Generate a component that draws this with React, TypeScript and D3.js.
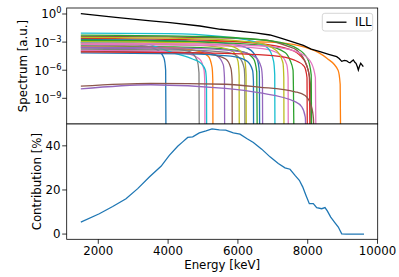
import React from 'react';
import * as d3 from 'd3';

// spectra of the individual branches: [energy keV, log10 spectrum]
const spectra: [number, number][][] = [
  [[1500, -3.05], [2500, -3.15], [3300, -3.4], [3700, -3.85], [3880, -4.7], [3930, -6.0], [3940, -14]],
  [[1500, -2.9], [4000, -2.9], [6000, -2.95], [6920, -3.0], [7776, -3.4], [8300, -4.1], [8540, -4.7], [8870, -6.0], [8930, -7.5], [8945, -14]],
  [[1500, -3.4], [4000, -3.5], [5500, -3.7], [6200, -4.1], [6450, -4.8], [6540, -6.2], [6556, -14]],
  [[1500, -2.6], [4500, -2.75], [6500, -3.1], [7500, -3.8], [7800, -4.5], [7950, -5.3], [8045, -6.6], [8066, -14]],
  [[1500, -3.65], [4000, -3.75], [5000, -4.0], [5400, -4.45], [5580, -5.4], [5615, -6.8], [5622, -14]],
  [[1500, -3.95], [4000, -4.05], [5200, -4.3], [5650, -4.8], [5800, -5.8], [5833, -7], [5839, -14]],
  [[1500, -3.85], [3500, -3.95], [4500, -4.2], [4900, -4.8], [5030, -6], [5052, -7.5], [5057, -14]],
  [[1500, -3.3], [3000, -3.4], [3800, -3.55], [4600, -4.0], [4830, -4.9], [4885, -6.3], [4894, -14]],
  [[1500, -3.15], [4000, -3.25], [5400, -3.5], [5850, -4.0], [6000, -5.0], [6035, -6.5], [6040, -14]],
  [[1500, -3.0], [3000, -3.05], [3400, -3.2], [3800, -3.7], [4200, -4.2], [4700, -4.8], [4950, -5.3], [5070, -6.0], [5100, -7.2], [5106, -14]],
  [[1500, -2.7], [4500, -2.9], [5800, -3.2], [6300, -3.7], [6550, -4.8], [6615, -6.2], [6625, -14]],
  [[1500, -3.5], [4000, -3.6], [4800, -3.9], [5150, -4.5], [5260, -5.7], [5280, -7], [5286, -14]],
  [[1500, -2.8], [5000, -3.0], [6800, -3.4], [7350, -4.1], [7490, -4.9], [7580, -6.0], [7607, -14]],
  [[1500, -3.55], [4500, -3.65], [6000, -4.0], [6500, -4.6], [6670, -5.7], [6703, -7], [6710, -14]],
  [[1500, -2.4], [4000, -2.45], [5500, -2.55], [6830, -2.8], [7400, -3.4], [7700, -3.9], [7970, -5.5], [8080, -7.5], [8100, -14]],
  [[1500, -3.25], [5000, -3.35], [6700, -3.7], [7200, -4.3], [7400, -5.4], [7438, -6.8], [7444, -14]],
  [[1500, -3.75], [4500, -3.85], [5700, -4.1], [6050, -4.7], [6180, -5.8], [6198, -7], [6203, -14]],
  [[1500, -2.95], [4500, -3.05], [5700, -3.35], [6050, -3.9], [6200, -5.0], [6234, -6.5], [6240, -14]],
  [[1500, -2.05], [4000, -2.1], [5500, -2.4], [6400, -2.9], [6850, -3.6], [7020, -5.0], [7055, -6.5], [7063, -14]],
  [[1500, -4.15], [4500, -4.25], [5800, -4.5], [6250, -5.0], [6420, -6.0], [6445, -7.2], [6450, -14]],
  [[1500, -2.25], [5000, -2.4], [7000, -2.9], [7700, -3.7], [8000, -4.8], [8100, -6.5], [8114, -14]],
  [[1500, -4.05], [5000, -4.15], [7000, -4.45], [7600, -4.9], [7900, -5.6], [7980, -6.8], [7990, -14]],
  [[1500, -3.1], [5000, -3.2], [7000, -3.5], [7800, -4.2], [8100, -5.2], [8220, -6.8], [8237, -14]],
  [[1500, -2.5], [5000, -2.65], [6600, -3.1], [7100, -3.9], [7290, -5.2], [7315, -6.8], [7321, -14]],
  [[1500, -8.0], [3500, -7.55], [5640, -7.93], [6600, -8.4], [7636, -9.36], [7827, -9.9], [7930, -11], [7951, -14]],
  [[1500, -7.7], [3500, -7.4], [5640, -7.5], [6600, -7.8], [7636, -8.3], [7925, -8.7], [8100, -9.8], [8165, -11.2], [8180, -14]],
];

const tab = d3.schemeCategory10;
const spectraColors = [
  tab[0], tab[1], tab[2], tab[3], tab[4], tab[5], tab[6], tab[7], tab[8], tab[9],
  tab[0], tab[1], tab[2], tab[4], tab[5], tab[6], tab[7], tab[8], tab[9], tab[0],
  tab[2], tab[3], tab[6], tab[8], tab[4], tab[5],
];

const illEnergy = [1500, 2500, 3500, 4055, 4914, 5500, 6500, 6920, 7206, 7500, 7874, 8100, 8352, 8600, 8830, 8900, 8974, 9050, 9117, 9170, 9212, 9260, 9307, 9350, 9384, 9420, 9450, 9485, 9518, 9560, 9593];
const illLog = [0.03, -0.35, -0.74, -0.92, -1.28, -1.63, -2.02, -2.24, -2.55, -2.9, -3.35, -3.75, -4.02, -4.3, -4.55, -4.75, -5.05, -4.95, -5.0, -5.15, -5.2, -5.05, -4.9, -5.15, -5.26, -5.6, -5.98, -5.55, -5.26, -5.45, -5.62];

const contribEnergy = [1500, 2029, 2413, 2794, 3129, 3462, 3797, 4035, 4275, 4418, 4562, 4705, 4894, 5086, 5258, 5467, 5650, 5868, 6060, 6252, 6443, 6682, 6920, 7157, 7349, 7493, 7636, 7760, 7856, 7951, 8046, 8160, 8257, 8400, 8495, 8561, 8659, 8782, 8876, 8974, 9100, 9613];
const contribPct = [5.4, 9.2, 12.5, 16, 20.6, 25.9, 30.7, 35.7, 39.8, 41.8, 43.8, 44.1, 45.9, 46.8, 47.7, 47.2, 47.1, 45.9, 45.3, 43.3, 41.5, 38.5, 35, 32, 30, 29.4, 26.6, 24.4, 21.4, 17.5, 13.8, 13.8, 12, 11.5, 12, 10.5, 7.7, 5.1, 3.2, 0.1, 0, 0];

const xTicks = [2000, 4000, 6000, 8000, 10000];
const logTicks = [0, -3, -6, -9];
const pctTicks = [0, 20, 40];

const L = 66.7, R = 377.7, T = 8, M = 124, B = 239.3;
const font = 'DejaVu Sans, sans-serif';
const fs = 11.8;

export default function App() {
  const x = d3.scaleLinear().domain([1095, 10005]).range([L, R]);
  const yS = d3.scaleLog().domain([10 ** -11.74, 10 ** 0.64]).range([M, T]);
  const yC = d3.scaleLinear().domain([-2.37, 49.9]).range([B, M]);

  const specLine = d3.line<[number, number]>()
    .x(d => x(d[0]))
    .y(d => yS(10 ** d[1]))
    .curve(d3.curveMonotoneX);
  const illLine = d3.line<number>()
    .x((_, i) => x(illEnergy[i]))
    .y(d => yS(10 ** d));
  const contribLine = d3.line<number>()
    .x((_, i) => x(contribEnergy[i]))
    .y(d => yC(d));

  return (
    <svg width={399} height={277} style={{ position: 'absolute', left: 0, top: 0, background: '#fff' }} fontFamily={font}>
      <defs>
        <clipPath id="clipTop"><rect x={L} y={T} width={R - L} height={M - T} /></clipPath>
        <clipPath id="clipBot"><rect x={L} y={M} width={R - L} height={B - M} /></clipPath>
      </defs>

      {/* top panel */}
      <g clipPath="url(#clipTop)">
        {spectra.map((s, i) => (
          <path key={i} d={specLine(s) || ''} fill="none" stroke={spectraColors[i]} strokeWidth={1.3} />
        ))}
        <path d={illLine(illLog) || ''} fill="none" stroke="#000" strokeWidth={1.3} />
      </g>
      {logTicks.map(t => (
        <g key={t}>
          <line x1={L - 4.5} x2={L} y1={yS(10 ** t)} y2={yS(10 ** t)} stroke="#000" strokeWidth={0.8} />
          <text x={61.5} y={yS(10 ** t) + 4.5} textAnchor="end" fontSize={fs} fill="#000">
            10<tspan dy={-5} fontSize={8.3}>{t === 0 ? '0' : '\u2212' + Math.abs(t)}</tspan>
          </text>
        </g>
      ))}
      <text transform={`translate(26.5,${(T + M) / 2}) rotate(-90)`} textAnchor="middle" fontSize={fs}>Spectrum [a.u.]</text>
      <rect x={L} y={T} width={R - L} height={M - T} fill="none" stroke="#000" strokeWidth={0.8} />

      {/* legend */}
      <rect x={322.3} y={13.3} width={50.4} height={17.7} rx={2.5} fill="#fff" fillOpacity={0.8} stroke="#ccc" strokeWidth={0.8} />
      <line x1={326.5} x2={346.5} y1={22.2} y2={22.2} stroke="#000" strokeWidth={1.3} />
      <text x={355} y={26.3} fontSize={fs}>ILL</text>

      {/* bottom panel */}
      <rect x={L} y={M} width={R - L} height={B - M} fill="#fff" />
      <g clipPath="url(#clipBot)">
        <path d={contribLine(contribPct) || ''} fill="none" stroke={tab[0]} strokeWidth={1.3} />
      </g>
      {pctTicks.map(t => (
        <g key={t}>
          <line x1={L - 4.5} x2={L} y1={yC(t)} y2={yC(t)} stroke="#000" strokeWidth={0.8} />
          <text x={60.5} y={yC(t) + 4.3} textAnchor="end" fontSize={fs}>{t}</text>
        </g>
      ))}
      {xTicks.map(t => (
        <g key={t}>
          <line x1={x(t)} x2={x(t)} y1={B} y2={B + 4.5} stroke="#000" strokeWidth={0.8} />
          <text x={x(t)} y={254.5} textAnchor="middle" fontSize={fs}>{t}</text>
        </g>
      ))}
      <text transform={`translate(40.5,${(M + B) / 2}) rotate(-90)`} textAnchor="middle" fontSize={fs}>Contribution [%]</text>
      <text x={(L + R) / 2} y={268.5} textAnchor="middle" fontSize={fs}>Energy [keV]</text>
      <rect x={L} y={M} width={R - L} height={B - M} fill="none" stroke="#000" strokeWidth={0.8} />
    </svg>
  );
}
